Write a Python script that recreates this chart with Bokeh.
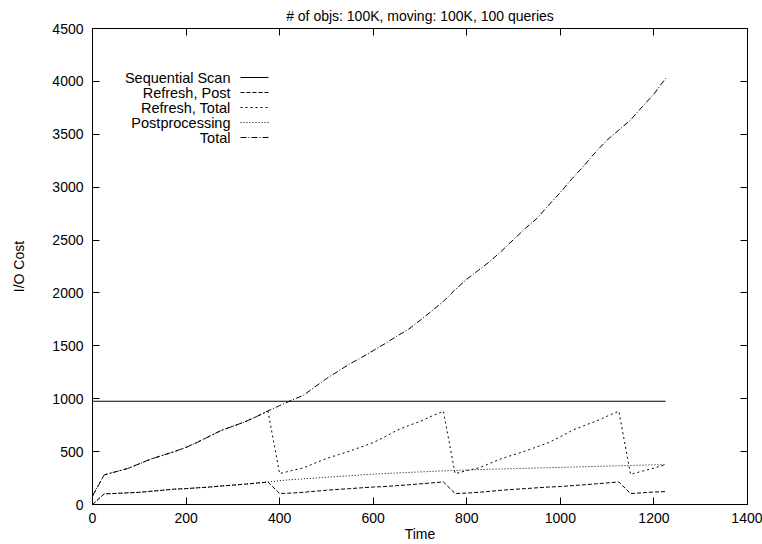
from bokeh.plotting import figure
from bokeh.models import Range1d, LinearAxis, FixedTicker, Label, Arrow, CustomJSTickFormatter
from bokeh.embed import file_html
from bokeh.resources import INLINE

TITLE = "# of objs: 100K, moving: 100K, 100 queries"
X_LABEL = "Time"
Y_LABEL = "I/O Cost"
x_ticks = [0, 200, 400, 600, 800, 1000, 1200, 1400]
y_ticks = [0, 500, 1000, 1500, 2000, 2500, 3000, 3500, 4000, 4500]

time = [0, 25, 50, 75, 100, 125, 150, 175, 200, 225, 250, 275, 300, 325, 350, 375,
        400, 425, 450, 475, 500, 525, 550, 575, 600, 625, 650, 675, 700, 725, 750,
        775, 800, 825, 850, 875, 900, 925, 950, 975, 1000, 1025, 1050, 1075, 1100,
        1125, 1150, 1175, 1200, 1225]

seq_time = [0, 1225]
seq_scan = [976, 976]

refresh_post = [0, 100, 105, 110, 115, 125, 135, 145, 150, 158, 165, 175, 183, 192, 202, 212,
                104, 108, 115, 125, 135, 143, 150, 158, 165, 170, 178, 186, 195, 204, 213,
                104, 108, 115, 125, 135, 143, 150, 158, 165, 170, 178, 186, 195, 204,
                213, 104, 110, 118, 122]

refresh_total = [80, 280, 310, 340, 385, 430, 465, 500, 540, 590, 645, 700, 740, 780, 830, 882,
                 292, 320, 345, 390, 435, 470, 505, 545, 585, 640, 700, 745, 785, 835, 882,
                 292, 320, 345, 390, 435, 470, 505, 545, 585, 640, 700, 745, 785, 835,
                 882, 285, 315, 345, 377]

postprocessing = [0, 100, 105, 110, 115, 125, 135, 145, 150, 158, 165, 175, 183, 192, 202, 212,
                  225, 235, 242, 250, 258, 265, 272, 280, 287, 293, 298, 303, 308, 313, 318,
                  322, 326, 330, 333, 336, 339, 342, 345, 348, 351, 354, 357, 360, 363,
                  366, 369, 372, 375, 377]

total = [80, 280, 310, 340, 385, 430, 465, 500, 540, 590, 645, 700, 740, 780, 830, 885,
         935, 985, 1030, 1110, 1190, 1260, 1330, 1390, 1455, 1520, 1590, 1655, 1740, 1830, 1920,
         2030, 2130, 2215, 2300, 2400, 2505, 2610, 2705, 2830, 2950, 3080, 3200, 3330, 3446,
         3540, 3635, 3760, 3880, 4030]

series_names = ["Sequential Scan", "Refresh, Post", "Refresh, Total", "Postprocessing", "Total"]
series_dash = ["solid", "4 2", "2 3", "1 2", "6 2 1 2"]

FONT = "Liberation Sans"

p = figure(width=762, height=544, output_backend="svg", toolbar_location=None,
           x_range=Range1d(0, 1400), y_range=Range1d(0, 4500),
           min_border_left=92, min_border_right=15, min_border_top=28, min_border_bottom=38,
           title=TITLE)

p.title.align = "center"
p.title.text_font = FONT
p.title.text_font_size = "14px"
p.title.text_font_style = "normal"
p.title.text_color = "black"
p.title.standoff = 10
p.title.offset = 0

p.xgrid.visible = False
p.ygrid.visible = False
p.outline_line_color = "black"
p.outline_line_width = 1
p.background_fill_color = "white"
p.border_fill_color = "white"

for ax, ticks in ((p.below[0], x_ticks), (p.left[0], y_ticks)):
    ax.ticker = FixedTicker(ticks=ticks)
    ax.major_tick_in = 7
    ax.major_tick_out = 0
    ax.minor_tick_in = 0
    ax.minor_tick_out = 0
    ax.axis_line_color = "black"
    ax.major_tick_line_color = "black"
    ax.major_label_text_font = FONT
    ax.major_label_text_font_size = "14px"
    ax.major_label_text_color = "black"
    ax.axis_label_text_font = FONT
    ax.axis_label_text_font_size = "14px"
    ax.axis_label_text_font_style = "normal"
    ax.axis_label_text_color = "black"

p.below[0].axis_label = X_LABEL
p.below[0].major_label_standoff = 8
p.below[0].axis_label_standoff = 0
p.left[0].axis_label = Y_LABEL
p.left[0].major_label_standoff = 9
p.left[0].axis_label_standoff = 22

blank = CustomJSTickFormatter(code="return ''")
for loc, ticks in (("above", x_ticks), ("right", y_ticks)):
    ax = LinearAxis(ticker=FixedTicker(ticks=ticks), formatter=blank,
                    major_tick_in=7, major_tick_out=0, minor_tick_in=0, minor_tick_out=0,
                    major_label_standoff=0, axis_line_color="black",
                    major_tick_line_color="black", major_label_text_font_size="1px")
    p.add_layout(ax, loc)

p.line(seq_time, seq_scan, line_color="black", line_width=1, line_dash=series_dash[0])
p.line(time, refresh_post, line_color="black", line_width=1, line_dash=series_dash[1])
p.line(time, refresh_total, line_color="black", line_width=1, line_dash=series_dash[2])
p.line(time, postprocessing, line_color="black", line_width=1, line_dash=series_dash[3])
p.line(time, total, line_color="black", line_width=1, line_dash=series_dash[4])

# gnuplot-style key: right-aligned text followed by line sample (screen units inside frame)
for i, (name, dash) in enumerate(zip(series_names, series_dash)):
    yy = 427 - 15 * i
    p.add_layout(Label(x=138, y=yy, x_units="screen", y_units="screen", text=name,
                       text_align="right", text_baseline="middle", text_font=FONT,
                       text_font_size="14.5px", text_color="black"))
    p.add_layout(Arrow(end=None, x_start=148, y_start=yy, x_end=176, y_end=yy,
                       start_units="screen", end_units="screen",
                       line_color="black", line_width=1, line_dash=dash))

open("out.html", "w").write(file_html(p, INLINE))
